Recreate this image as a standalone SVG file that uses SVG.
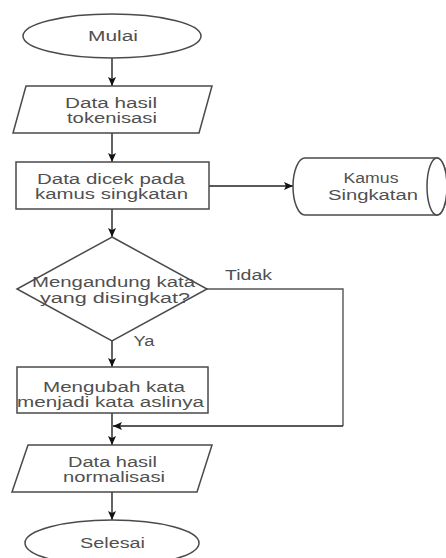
<svg xmlns="http://www.w3.org/2000/svg" width="446" height="558" viewBox="0 0 446 558">
<defs>
<marker id="arr" markerUnits="userSpaceOnUse" markerWidth="10" markerHeight="10" viewBox="0 0 10 10" refX="9" refY="5" orient="auto">
<path d="M0,1 L9,5 L0,9 L2,5 Z" fill="#111"/>
</marker>
</defs>
<style>
.s{fill:#fff;stroke:#4a4a4a;stroke-width:1.5}
.t{font-family:"Liberation Sans",Arial,sans-serif;font-size:14px;fill:#505050;text-anchor:middle}
.c{fill:none;stroke:#222;stroke-width:1.4}
.a{marker-end:url(#arr)}
</style>
<rect width="446" height="558" fill="#fff"/>
<g id="connectors">
<path class="c a" d="M112,58 L112,86"/>
<path class="c a" d="M112,133 L112,162"/>
<path class="c a" d="M209,186 L293,186"/>
<path class="c a" d="M112,209 L112,237"/>
<path class="c" d="M207,289 L343,289 L343,426" style="stroke:#555"/>
<path class="c a" d="M343,426 L113,426"/>
<path class="c a" d="M112,341 L112,367"/>
<path class="c a" d="M112,413 L112,445"/>
<path class="c a" d="M112,492 L112,520"/>
</g>
<g id="mulai">
<ellipse class="s" cx="112" cy="36" rx="89" ry="22"/>
<text class="t" x="113" y="40.5" textLength="50" lengthAdjust="spacingAndGlyphs">Mulai</text>
</g>
<g id="data-tokenisasi">
<polygon class="s" points="26,86 212,86 199,133 13,133"/>
<text class="t" x="111" y="108" textLength="92" lengthAdjust="spacingAndGlyphs">Data hasil</text>
<text class="t" x="112" y="122.5" textLength="90" lengthAdjust="spacingAndGlyphs">tokenisasi</text>
</g>
<g id="dicek">
<rect class="s" x="16" y="162" width="193" height="47"/>
<text class="t" x="111" y="184" textLength="148" lengthAdjust="spacingAndGlyphs">Data dicek pada</text>
<text class="t" x="111.5" y="198.5" textLength="153" lengthAdjust="spacingAndGlyphs">kamus singkatan</text>
</g>
<g id="kamus">
<path class="s" d="M305,158 L437,158 A10,28.5 0 0 1 437,215 L305,215 A12,28.5 0 0 1 305,158 Z"/>
<ellipse class="s" cx="437" cy="186.5" rx="10" ry="28.5"/>
<text class="t" x="371" y="183" textLength="55" lengthAdjust="spacingAndGlyphs">Kamus</text>
<text class="t" x="373" y="200" textLength="90" lengthAdjust="spacingAndGlyphs">Singkatan</text>
</g>
<g id="keputusan">
<polygon class="s" points="112,237 207,289 112,341 17,289"/>
<text class="t" x="113.5" y="287" textLength="163" lengthAdjust="spacingAndGlyphs">Mengandung kata</text>
<text class="t" x="115" y="303" textLength="150" lengthAdjust="spacingAndGlyphs">yang disingkat?</text>
</g>
<g id="label-tidak">
<text class="t" x="248.5" y="280" textLength="47" lengthAdjust="spacingAndGlyphs">Tidak</text>
</g>
<g id="label-ya">
<text class="t" x="144" y="346" textLength="21" lengthAdjust="spacingAndGlyphs">Ya</text>
</g>
<g id="mengubah">
<rect class="s" x="17" y="367" width="191" height="46"/>
<text class="t" x="114" y="392" textLength="142" lengthAdjust="spacingAndGlyphs">Mengubah kata</text>
<text class="t" x="110.5" y="407" textLength="187" lengthAdjust="spacingAndGlyphs">menjadi kata aslinya</text>
</g>
<g id="data-normalisasi">
<polygon class="s" points="28,445 212,445 197,492 12,492"/>
<text class="t" x="112.5" y="467" textLength="89" lengthAdjust="spacingAndGlyphs">Data hasil</text>
<text class="t" x="114" y="481.5" textLength="102" lengthAdjust="spacingAndGlyphs">normalisasi</text>
</g>
<g id="selesai">
<ellipse class="s" cx="112" cy="543" rx="87" ry="23"/>
<text class="t" x="112.5" y="548" textLength="65" lengthAdjust="spacingAndGlyphs">Selesai</text>
</g>
</svg>
